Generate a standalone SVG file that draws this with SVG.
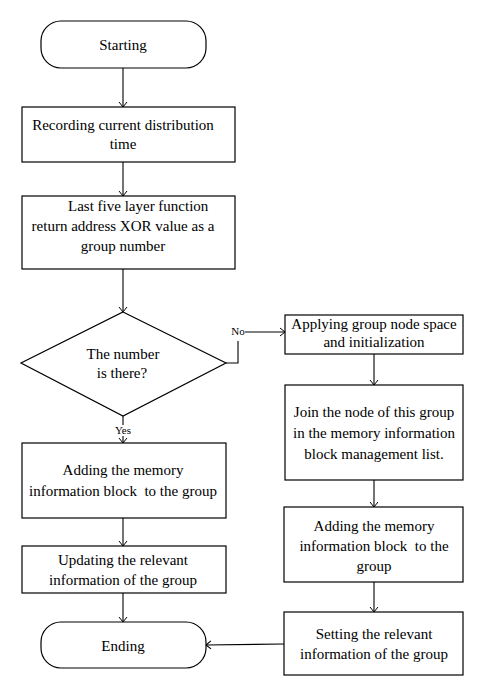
<svg xmlns="http://www.w3.org/2000/svg" width="485" height="698" viewBox="0 0 485 698">
<style>
.n{fill:#fff;stroke:#000;stroke-width:1.2}
text{font-family:"Liberation Serif","Times New Roman",serif;font-size:15px;fill:#000;text-anchor:middle;white-space:pre}
.s{font-size:11px}
.c{fill:none;stroke:#000;stroke-width:1.1}
</style>
<defs>
<marker id="a" markerUnits="userSpaceOnUse" markerWidth="10" markerHeight="10" viewBox="0 0 10 10" refX="10" refY="5" orient="auto">
<path d="M5,1 L10,5 L5,9" fill="none" stroke="#000" stroke-width="1"/>
</marker>
</defs>
<rect width="485" height="698" fill="#fff"/>
<g id="connectors">
<path class="c" d="M123,68 V107" marker-end="url(#a)"/>
<path class="c" d="M123,162 V196" marker-end="url(#a)"/>
<path class="c" d="M123,269 V312" marker-end="url(#a)"/>
<path class="c" d="M123,416 V425"/>
<path class="c" d="M123,436 V443" marker-end="url(#a)"/>
<path class="c" d="M226,363 H238 V341"/>
<path class="c" d="M245,332 H285" marker-end="url(#a)"/>
<path class="c" d="M374,354 V385" marker-end="url(#a)"/>
<path class="c" d="M374,480 V507" marker-end="url(#a)"/>
<path class="c" d="M374,582 V612" marker-end="url(#a)"/>
<path class="c" d="M123,518 V546" marker-end="url(#a)"/>
<path class="c" d="M123,593 V622" marker-end="url(#a)"/>
<path class="c" d="M284,644 L206,645" stroke="#444" marker-end="url(#a)"/>
<text class="s" x="123" y="434">Yes</text>
<text class="s" x="238" y="335">No</text>
</g>
<g id="start"><rect class="n" x="41" y="21" width="165" height="47" rx="20"/><text x="123" y="50">Starting</text></g>
<g id="record"><rect class="n" x="22" y="107" width="213" height="55"/><text x="123" y="130">Recording current distribution</text><text x="123" y="149">time</text></g>
<g id="xor"><rect class="n" x="22" y="196" width="213" height="73"/><text x="68" y="211" style="text-anchor:start">Last five layer function</text><text x="123" y="231">return address XOR value as a</text><text x="123" y="251">group number</text></g>
<g id="decision"><path class="n" d="M123,312 L226,363 L123,416 L21,363 Z"/><text x="123" y="359">The number</text><text x="122" y="378">is there?</text></g>
<g id="addL"><rect class="n" x="22" y="443" width="204" height="75"/><text x="123" y="475">Adding the memory</text><text x="123" y="496">information block  to the group</text></g>
<g id="update"><rect class="n" x="22" y="546" width="204" height="47"/><text x="123" y="565">Updating the relevant</text><text x="123" y="585">information of the group</text></g>
<g id="end"><rect class="n" x="41" y="622" width="165" height="46" rx="20"/><text x="123" y="651">Ending</text></g>
<g id="apply"><rect class="n" x="285" y="315" width="178" height="39"/><text x="374" y="329">Applying group node space</text><text x="374" y="347">and initialization</text></g>
<g id="join"><rect class="n" x="285" y="385" width="178" height="95"/><text x="374" y="417">Join the node of this group</text><text x="374" y="438">in the memory information</text><text x="374" y="459">block management list.</text></g>
<g id="addR"><rect class="n" x="284" y="507" width="179" height="75"/><text x="374" y="531">Adding the memory</text><text x="374" y="551">information block  to the</text><text x="374" y="571">group</text></g>
<g id="set"><rect class="n" x="284" y="612" width="179" height="63"/><text x="374" y="639">Setting the relevant</text><text x="374" y="659">information of the group</text></g>
</svg>
